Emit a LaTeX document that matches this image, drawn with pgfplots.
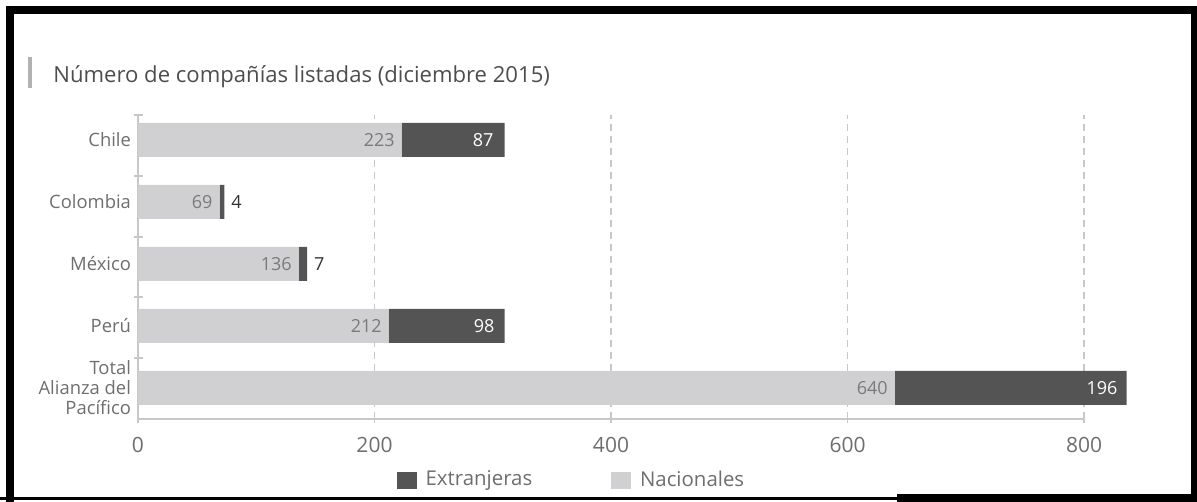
\documentclass[border=0pt]{standalone}
\usepackage{pgfplots}
\pgfplotsset{compat=1.18}
\usepackage{pgfplotstable}
\usepackage{fontspec}
\setmainfont{Open Sans}
\definecolor{nac}{HTML}{D0D0D2}
\definecolor{ext}{HTML}{545454}
\definecolor{axgray}{HTML}{C8C8C8}
\definecolor{txtgray}{HTML}{6E6E6E}
\definecolor{natlbl}{HTML}{7A7A7A}
\definecolor{extout}{HTML}{333333}
\definecolor{titlegray}{HTML}{4D4D4D}

\pgfplotstableread{
y nat ext inside dx
4 223 87 1 -2
3 69 4 0 0
2 136 7 0 0
1 212 98 1 -1.5
0 640 196 1 -1
}\datatable

\begin{document}
\begin{tikzpicture}
\useasboundingbox (0,0) rectangle (598.5pt,251pt);
% screenshot frame
\fill[black] (3pt,248pt) rectangle (598.5pt,244pt);
\fill[black] (3pt,248pt) rectangle (7pt,0pt);
\fill[black] (595.5pt,248pt) rectangle (598.5pt,0pt);
\fill[black] (0pt,2.5pt) rectangle (448.5pt,1pt);
\fill[black] (448.5pt,4pt) rectangle (598.5pt,0pt);
% title
\fill[black!30] (14pt,222.5pt) rectangle (15.9pt,207pt);
\node[anchor=base west, inner sep=0pt, text=titlegray, font=\fontsize{11.05}{13}\selectfont] at (26.5pt,209.5pt) {Número de compañías listadas (diciembre 2015)};
\begin{axis}[
  at={(69pt,41.5pt)}, anchor=south west,
  scale only axis, width=473pt, height=152pt,
  xmin=0, xmax=800, ymin=-0.5, ymax=4.4,
  clip=false,
  xbar stacked, bar width=17pt,
  axis lines*=left,
  axis line style={axgray, line width=0.8pt},
  tick align=center, major tick length=4.5pt,
  tick style={axgray, line width=0.8pt},
  xtick={0,200,400,600,800},
  xmajorgrids,
  grid style={axgray, line width=0.8pt, dash pattern=on 3.5pt off 2.5pt},
  /pgf/number format/assume math mode=true,
  x tick label style={font=\fontsize{10.5}{12}\selectfont, text=txtgray, yshift=-3.5pt},
  ytick={0.484,1.468,2.435,3.42,4.4},
  yticklabels={,,,,},
  extra y ticks={0,1,2,3,4},
  extra y tick labels={{Total\\Alianza del\\Pacífico},Perú,México,Colombia,Chile},
  extra y tick style={major tick length=0pt},
  y tick label style={align=right, font=\fontsize{9.2}{10}\selectfont, text=txtgray},
  legend style={draw=none, fill=none, at={(0.4593,-0.2007)}, anchor=center,
    legend columns=2, font=\fontsize{10.2}{11}\selectfont, text=txtgray,
    /tikz/every even column/.append style={column sep=37.5pt}},
]
\addlegendimage{legend image code/.code={\fill[ext] (0pt,-4pt) rectangle (9.5pt,4pt); \path (12pt,0pt);}}
\addlegendimage{legend image code/.code={\fill[nac] (0pt,-4pt) rectangle (9.5pt,4pt); \path (12pt,0pt);}}
\addplot[fill=nac, draw=none, point meta=explicit,
  visualization depends on={\thisrow{nat}*0.295625 \as \hn},
  nodes near coords,
  nodes near coords style={anchor=east, xshift=\hn pt, text=natlbl, font=\fontsize{9}{10}\selectfont}]
  table[x=nat, y=y, meta=nat]{\datatable};
\addplot[fill=ext, draw=none, point meta=explicit,
  visualization depends on={\thisrow{inside} \as \inside},
  visualization depends on={\thisrow{ext}*0.295625+\thisrow{dx} \as \he},
  nodes near coords={\ifdim\inside pt>0.5pt\color{white}\else\color{extout}\fi\pgfmathprintnumber{\pgfplotspointmeta}},
  nodes near coords style={anchor=\ifdim\inside pt>0.5pt east\else west\fi, xshift=\he pt, font=\fontsize{9}{10}\selectfont}]
  table[x=ext, y=y, meta=ext]{\datatable};
\legend{Extranjeras,Nacionales}
\end{axis}
\end{tikzpicture}
\end{document}
